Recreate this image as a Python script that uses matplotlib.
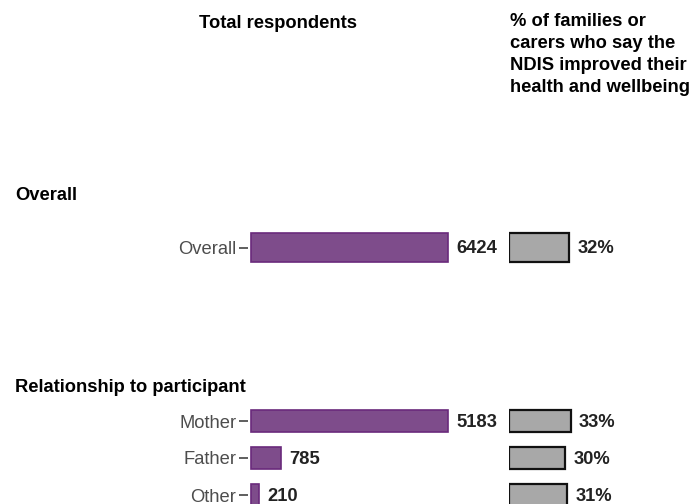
import matplotlib.pyplot as plt

plt.rcParams['font.family'] = ['Liberation Sans', 'DejaVu Sans']

# ===== data =====
overall_labels = ["Overall"]
overall_counts = [6424]
overall_pct = [32]

rel_labels = ["Mother", "Father", "Other"]
rel_counts = [5183, 785, 210]
rel_pct = [33, 30, 31]

W, H = 696, 504
fig = plt.figure(figsize=(W / 100, H / 100), dpi=100)

PURPLE = "#7E4C8B"
PURPLE_EDGE = "#6A2A7C"
GREY = "#A8A8A8"
FS = 13.2


def px_axes(x0, x1, y_top, y_bot):
    # axes from pixel box (origin top-left)
    return fig.add_axes([x0 / W, 1 - y_bot / H, (x1 - x0) / W, (y_bot - y_top) / H])


def draw_facet(labels, counts, pct, centre_top, step, bar_h):
    n = len(labels)
    y_top = centre_top - step / 2
    y_bot = y_top + step * n
    ys = list(range(n))

    # --- total respondents (free scale per facet) ---
    ax = px_axes(248, 505, y_top, y_bot)
    k = 197 / max(counts)  # px per unit
    ax.set_xlim(-3 / k, (505 - 251) / k)
    ax.set_ylim(n - 0.5, -0.5)
    ax.barh(ys, counts, height=bar_h, left=0, color=PURPLE,
            edgecolor=PURPLE_EDGE, linewidth=1.2)
    for y, v in zip(ys, counts):
        ax.annotate(f"{v}", (v, y), xytext=(6, -1), textcoords="offset points",
                    ha="left", va="center", fontsize=FS, fontweight="bold",
                    color="#222222")
    ax.set_yticks(ys)
    ax.set_yticklabels(labels, fontsize=FS, color="#4D4D4D")
    ax.tick_params(axis="y", length=6.5, width=1.1, color="#333333", pad=2)
    ax.set_xticks([])
    for s in ax.spines.values():
        s.set_visible(False)
    ax.patch.set_alpha(0)

    # --- % improved (fixed scale) ---
    ax2 = px_axes(509, 696, y_top, y_bot)
    ax2.set_xlim(0, 100)
    ax2.set_ylim(n - 0.5, -0.5)
    ax2.barh(ys, pct, height=bar_h, left=0, color=GREY,
             edgecolor="#111111", linewidth=1.6)
    for y, v in zip(ys, pct):
        ax2.annotate(f"{v}%", (v, y), xytext=(6, -1), textcoords="offset points",
                     ha="left", va="center", fontsize=FS, fontweight="bold",
                     color="#222222")
    ax2.axis("off")


draw_facet(overall_labels, overall_counts, overall_pct, 247.5, 58, 0.5)
draw_facet(rel_labels, rel_counts, rel_pct, 421, 37, 0.57)

# headers
fig.text(278 / W, 1 - 23 / H, "Total respondents", ha="center", va="center",
         fontsize=FS, fontweight="bold", color="black")
fig.text(510 / W, 1 - 13 / H,
         "% of families or\ncarers who say the\nNDIS improved their\nhealth and wellbeing",
         ha="left", va="top", fontsize=FS, fontweight="bold", color="black",
         linespacing=1.38)

# facet strips
fig.text(15 / W, 1 - 196 / H, "Overall", ha="left", va="center",
         fontsize=FS, fontweight="bold", color="black")
fig.text(15 / W, 1 - 388 / H, "Relationship to participant", ha="left",
         va="center", fontsize=FS, fontweight="bold", color="black")

plt.savefig("out.png", dpi=100)
